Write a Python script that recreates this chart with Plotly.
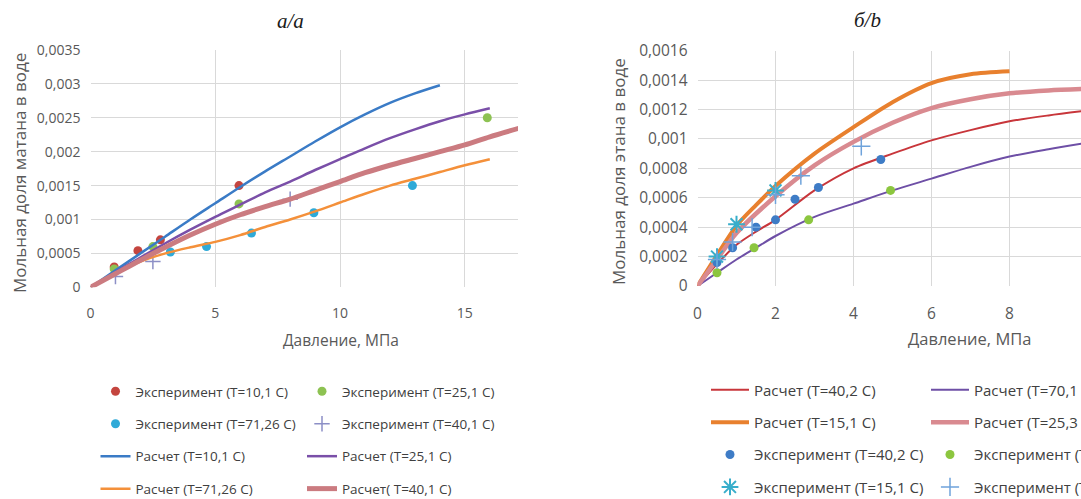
import plotly.graph_objects as go

W, H = 1081, 499

# ---------------- Left chart (methane) ----------------
left_title = "а/a"
left_ytitle = "Мольная доля матана в воде"
left_xtitle = "Давление, МПа"
left_xticks = [0, 5, 10, 15]
left_xticktext = ["0", "5", "10", "15"]
left_yticks = [0, 0.0005, 0.001, 0.0015, 0.002, 0.0025, 0.003, 0.0035]
left_yticktext = ["0", "0,0005", "0,001", "0,0015", "0,002", "0,0025", "0,003", "0,0035"]

exp10_x = [0.95, 1.9, 2.8, 5.95]
exp10_y = [0.0003, 0.00054, 0.0007, 0.0015]
exp25_x = [0.95, 2.5, 5.95, 15.9]
exp25_y = [0.00027, 0.0006, 0.00123, 0.0025]
exp71_x = [3.2, 4.65, 6.45, 8.95, 12.9]
exp71_y = [0.00052, 0.0006, 0.0008, 0.0011, 0.0015]
exp40_x = [1.0, 2.5, 8.0]
exp40_y = [0.00016, 0.00038, 0.0013]

calc10_x = [0, 1, 2, 3, 4, 5, 6, 7, 8, 9, 10, 11, 12, 13, 14]
calc10_y = [0, 0.00025, 0.0005, 0.00075, 0.001, 0.00124, 0.00148, 0.00171, 0.00193, 0.00215, 0.00236, 0.00255, 0.00272, 0.00286, 0.00298]
calc25_x = [0, 1, 2, 3, 4, 5, 6, 7, 8, 9, 10, 11, 12, 13, 14, 15, 16]
calc25_y = [0, 0.00022, 0.00044, 0.00065, 0.00085, 0.00104, 0.00122, 0.0014, 0.00156, 0.00173, 0.00189, 0.00205, 0.0022, 0.00233, 0.00245, 0.00255, 0.00264]
calc71_x = [0, 1, 2, 3, 4, 5, 6, 7, 8, 9, 10, 11, 12, 13, 14, 15, 16]
calc71_y = [0, 0.00021, 0.00038, 0.0005, 0.00059, 0.00067, 0.00077, 0.00089, 0.001, 0.00112, 0.00125, 0.00138, 0.0015, 0.0016, 0.0017, 0.0018, 0.00189]
calc40_x = [0, 1, 2, 3, 4, 5, 6, 7, 8, 9, 10, 11, 12, 13, 14, 15, 16, 17.3]
calc40_y = [0, 0.0002, 0.0004, 0.00059, 0.00077, 0.00093, 0.00107, 0.00119, 0.0013, 0.00143, 0.00156, 0.00169, 0.0018, 0.0019, 0.002, 0.0021, 0.00222, 0.00236]

# ---------------- Right chart (ethane) ----------------
right_title = "б/b"
right_ytitle = "Мольная доля этана в воде"
right_xtitle = "Давление, МПа"
right_xticks = [0, 2, 4, 6, 8]
right_xticktext = ["0", "2", "4", "6", "8"]
right_yticks = [0, 0.0002, 0.0004, 0.0006, 0.0008, 0.001, 0.0012, 0.0014, 0.0016]
right_yticktext = ["0", "0,0002", "0,0004", "0,0006", "0,0008", "0,001", "0,0012", "0,0014", "0,0016"]

rc402_x = [0, 0.5, 1, 1.5, 2, 3, 4, 5, 6, 7, 8, 9, 9.9]
rc402_y = [0, 0.00015, 0.00028, 0.00037, 0.00045, 0.00065, 0.0008, 0.0009, 0.00099, 0.00106, 0.00112, 0.00116, 0.00119]
rc701_x = [0, 0.5, 1, 1.5, 2, 3, 4, 5, 6, 7, 8, 9, 9.9]
rc701_y = [0, 0.00009, 0.00018, 0.00026, 0.00034, 0.00047, 0.00056, 0.00065, 0.00073, 0.00081, 0.00088, 0.00093, 0.00097]
rc151_x = [0, 0.5, 1, 1.5, 2, 3, 4, 5, 6, 7, 8]
rc151_y = [0, 0.00021, 0.00041, 0.00055, 0.00068, 0.0009, 0.00108, 0.00125, 0.00138, 0.00144, 0.00146]
rc253_x = [0, 0.5, 1, 2, 3, 4, 5, 6, 7, 8, 9, 9.9]
rc253_y = [0, 0.00018, 0.00036, 0.00061, 0.00082, 0.00098, 0.00111, 0.00121, 0.00127, 0.00131, 0.00133, 0.00134]

re402_x = [0.5, 0.9, 1.5, 2.0, 2.5, 3.1, 4.7]
re402_y = [0.00016, 0.00026, 0.0004, 0.00045, 0.00059, 0.00067, 0.00086]
re701_x = [0.5, 1.45, 2.85, 4.95]
re701_y = [0.00009, 0.00026, 0.00045, 0.00065]
re151_x = [0.5, 1.0, 2.0]
re151_y = [0.0002, 0.00042, 0.00065]
re253_x = [0.5, 0.9, 1.4, 2.0, 2.65, 4.2]
re253_y = [0.00018, 0.0003, 0.0004, 0.00062, 0.00075, 0.00095]

GRID = "#D9D9D9"
TICK = "#595959"
LEG = "#404040"
FONT = "Open Sans"

fig = go.Figure()

def dots(x, y, name, color, legend, ax, size=9, symbol="circle", lw=0):
    mk = dict(color=color, size=size, symbol=symbol)
    if lw:
        mk["line"] = dict(color=color, width=lw)
    fig.add_trace(go.Scatter(x=x, y=y, mode="markers", name=name, marker=mk,
                             legend=legend, legendgroup=name + legend,
                             xaxis=ax[0], yaxis=ax[1]))

def line(x, y, name, color, width, legend, ax):
    fig.add_trace(go.Scatter(x=x, y=y, mode="lines", name=name,
                             line=dict(color=color, width=width, shape="spline", smoothing=0.8),
                             legend=legend, legendgroup=name + legend,
                             xaxis=ax[0], yaxis=ax[1]))

L = ("x", "y")
R = ("x2", "y2")

# left: experiments then calculations (Excel series order)
dots(exp10_x, exp10_y, "Эксперимент (T=10,1 C)", "#C4453F", "legend", L)
dots(exp25_x, exp25_y, "Эксперимент (T=25,1 C)", "#8DC252", "legend2", L)
dots(exp71_x, exp71_y, "Эксперимент (T=71,26 C)", "#2FAAD8", "legend", L)
dots(exp40_x, exp40_y, "Эксперимент (T=40,1 C)", "#8C8FC6", "legend2", L, size=11, symbol="cross-thin-open", lw=1.5)
line(calc10_x, calc10_y, "Расчет (T=10,1 C)", "#3A7BC6", 2.5, "legend", L)
line(calc25_x, calc25_y, "Расчет (T=25,1 C)", "#7A4FA8", 2.5, "legend2", L)
line(calc71_x, calc71_y, "Расчет (T=71,26 C)", "#F4903A", 2.5, "legend", L)
line(calc40_x, calc40_y, "Расчет( T=40,1 C)", "#CB7B80", 5, "legend2", L)

# right: calculations then experiments
line(rc402_x, rc402_y, "Расчет (T=40,2 C)", "#C8363B", 2, "legend3", R)
line(rc701_x, rc701_y, "Расчет (T=70,1 C)", "#6E4FA6", 2, "legend4", R)
line(rc151_x, rc151_y, "Расчет (T=15,1 C)", "#E8802E", 4, "legend3", R)
line(rc253_x, rc253_y, "Расчет (T=25,3 C)", "#D98A90", 4.5, "legend4", R)
dots(re402_x, re402_y, "Эксперимент (T=40,2 C)", "#3E7CC6", "legend3", R)
dots(re701_x, re701_y, "Эксперимент (T=70,1 C)", "#8CC63F", "legend4", R)
dots(re151_x, re151_y, "Эксперимент (T=15,1 C)", "#38AECB", "legend3", R, size=14, symbol="asterisk-open", lw=2)
dots(re253_x, re253_y, "Эксперимент (T=25,3 C)", "#6FA3DB", "legend4", R, size=13, symbol="cross-thin-open", lw=1.5)

def px_x(p):
    return p / W

def px_y(p):
    return 1 - p / H

axcommon = dict(showgrid=True, gridcolor=GRID, gridwidth=1, zeroline=False, showline=False,
                ticks="", fixedrange=True)
tf_left = dict(family=FONT, size=14, color=TICK)
tf_right = dict(family=FONT, size=15.5, color=TICK)

fig.update_layout(
    width=W, height=H,
    margin=dict(l=0, r=0, t=0, b=0, autoexpand=False),
    paper_bgcolor="white", plot_bgcolor="white",
    showlegend=True,
    xaxis=dict(domain=[px_x(90.5), px_x(518)], range=[0, 17.13], tickmode="array",
               tickvals=left_xticks, ticktext=left_xticktext, anchor="y", ticklabelstandoff=16,
               tickfont=tf_left, **axcommon),
    yaxis=dict(domain=[px_y(287.3), px_y(50)], range=[0, 0.0035], tickmode="array",
               tickvals=left_yticks, ticktext=left_yticktext, anchor="x", ticklabelstandoff=9,
               tickfont=tf_left, **axcommon),
    xaxis2=dict(domain=[px_x(697.5), 1], range=[0, (W - 697.5) / 39.0], tickmode="array",
                tickvals=right_xticks, ticktext=right_xticktext, anchor="y2", ticklabelstandoff=16,
                tickfont=tf_right, **axcommon),
    yaxis2=dict(domain=[px_y(286), px_y(50.7)], range=[0, 0.0016], tickmode="array",
                tickvals=right_yticks, ticktext=right_yticktext, anchor="x2", ticklabelstandoff=9,
                tickfont=tf_right, **axcommon),
    legend=dict(x=px_x(95.5), y=px_y(376), xanchor="left", yanchor="top", tracegroupgap=11.9,
                font=dict(family=FONT, size=13.5, color=LEG), bgcolor="rgba(0,0,0,0)", itemwidth=30),
    legend2=dict(x=px_x(302), y=px_y(376), xanchor="left", yanchor="top", tracegroupgap=11.9,
                 font=dict(family=FONT, size=13.5, color=LEG), bgcolor="rgba(0,0,0,0)", itemwidth=30),
    legend3=dict(x=px_x(706), y=px_y(373.5), xanchor="left", yanchor="top", tracegroupgap=9.9,
                 font=dict(family=FONT, size=15, color=LEG), bgcolor="rgba(0,0,0,0)", itemwidth=38),
    legend4=dict(x=px_x(926), y=px_y(373.5), xanchor="left", yanchor="top", tracegroupgap=9.9,
                 font=dict(family=FONT, size=15, color=LEG), bgcolor="rgba(0,0,0,0)", itemwidth=38),
)

def note(text, cx, cy, size, color, angle=0, family=FONT, style="normal"):
    return dict(text=text, x=px_x(cx), y=px_y(cy), xref="paper", yref="paper", showarrow=False,
                xanchor="center", yanchor="middle", textangle=angle,
                font=dict(family=family, size=size, color=color, style=style))

ann = [
    note(left_title, 290, 21, 21, "#1a1a1a", family="Liberation Serif", style="italic"),
    note(right_title, 867.5, 20, 21, "#1a1a1a", family="Liberation Serif", style="italic"),
    note(left_ytitle, 19, 173, 17, TICK, angle=-90),
    note(right_ytitle, 618, 172, 17, TICK, angle=-90),
    note(left_xtitle, 341, 340, 15.5, TICK),
    note(right_xtitle, 969, 338, 16.5, TICK),
]
fig.update_layout(annotations=ann)

fig.write_html("out.html")
